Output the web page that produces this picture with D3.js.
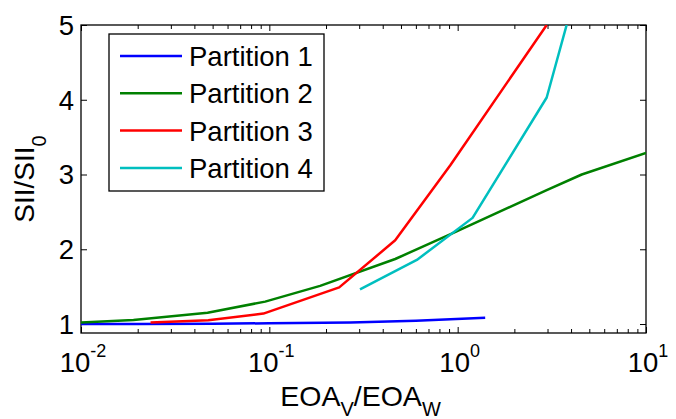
<!DOCTYPE html>
<html>
<head>
<meta charset="utf-8">
<script src="https://cdn.jsdelivr.net/npm/d3@7"></script>
<style>
  html, body { margin: 0; padding: 0; background: #fff; }
  svg { display: block; }
  text { font-family: "Liberation Sans", Arial, Helvetica, sans-serif; fill: #000; }
</style>
</head>
<body>
<svg id="chart" width="676" height="419"></svg>
<script>
// ---- data ----
const seriesNames = ["Partition 1", "Partition 2", "Partition 3", "Partition 4"];
const seriesColors = ["#0000ff", "#008000", "#ff0000", "#00bfbf"];

const p1X = [0.01, 0.02, 0.05, 0.1, 0.27, 0.6, 1.4];
const p1Y = [1.0, 1.0, 1.005, 1.01, 1.02, 1.045, 1.085];

const p2X = [0.01, 0.019, 0.047, 0.095, 0.186, 0.466, 0.93, 2.97, 4.56, 10];
const p2Y = [1.02, 1.055, 1.15, 1.30, 1.51, 1.87, 2.21, 2.79, 3.0, 3.29];

const p3X = [0.0234, 0.0474, 0.093, 0.235, 0.466, 0.912, 2.97];
const p3Y = [1.02, 1.05, 1.14, 1.49, 2.12, 3.12, 5.0];

const p4X = [0.303, 0.607, 1.2, 2.97, 3.79];
const p4Y = [1.465, 1.857, 2.42, 4.03, 5.0];

const xMajorTicks = [0.01, 0.1, 1, 10];
const xTickExponents = ["-2", "-1", "0", "1"];
const yTicks = [1, 2, 3, 4, 5];

// ---- layout ----
const svg = d3.select("#chart");
const L = 81, R = 646, T = 25, B = 333;
const fontSize = 27.5;

const x = d3.scaleLog().domain([0.01, 10]).range([L, R]);
const y = d3.scaleLinear().domain([0.88, 5]).range([B, T]);

const xMinor = [];
[0.01, 0.1, 1].forEach(d => { for (let k = 2; k <= 9; k++) xMinor.push(d * k); });

svg.append("defs").append("clipPath").attr("id", "clip")
  .append("rect").attr("x", L).attr("y", T).attr("width", R - L).attr("height", B - T);

// ticks (inside, on all four sides)
function styleAxis(g) {
  g.select(".domain").remove();
  g.selectAll(".tick line").attr("stroke", "#000").attr("stroke-width", 1);
  g.selectAll(".tick text").remove();
}
svg.append("g").attr("transform", `translate(0,${B})`)
  .call(d3.axisBottom(x).tickValues(xMajorTicks).tickSize(-6).tickFormat("")).call(styleAxis);
svg.append("g").attr("transform", `translate(0,${B})`)
  .call(d3.axisBottom(x).tickValues(xMinor).tickSize(-4).tickFormat("")).call(styleAxis);
svg.append("g").attr("transform", `translate(0,${T})`)
  .call(d3.axisTop(x).tickValues(xMajorTicks).tickSize(-6).tickFormat("")).call(styleAxis);
svg.append("g").attr("transform", `translate(0,${T})`)
  .call(d3.axisTop(x).tickValues(xMinor).tickSize(-4).tickFormat("")).call(styleAxis);
svg.append("g").attr("transform", `translate(${L},0)`)
  .call(d3.axisLeft(y).tickValues(yTicks).tickSize(-6).tickFormat("")).call(styleAxis);
svg.append("g").attr("transform", `translate(${R},0)`)
  .call(d3.axisRight(y).tickValues(yTicks).tickSize(-6).tickFormat("")).call(styleAxis);

// box
svg.append("rect").attr("x", L).attr("y", T).attr("width", R - L).attr("height", B - T)
  .attr("fill", "none").attr("stroke", "#000").attr("stroke-width", 1.3);

// y tick labels
svg.append("g").selectAll("text").data(yTicks).join("text")
  .attr("x", L - 7).attr("y", d => y(d)).attr("dy", "0.36em")
  .attr("text-anchor", "end").attr("font-size", fontSize).text(d => d);

// x tick labels 10^n
const xl = svg.append("g").selectAll("text").data(xMajorTicks).join("text")
  .attr("x", d => x(d) + 2).attr("y", 372).attr("text-anchor", "middle").attr("font-size", fontSize);
xl.append("tspan").text("10");
xl.append("tspan").attr("font-size", 18).attr("dy", -15).text((d, i) => xTickExponents[i]);

// axis titles
const xt = svg.append("text").attr("x", (L + R) / 2 - 3).attr("y", 406)
  .attr("text-anchor", "middle").attr("font-size", 28.5);
xt.append("tspan").text("EOA");
xt.append("tspan").attr("font-size", 20).attr("dy", 10).text("V");
xt.append("tspan").attr("dy", -10).text("/EOA");
xt.append("tspan").attr("font-size", 20).attr("dy", 10).text("W");

const yt = svg.append("text").attr("transform", `translate(34,${(T + B) / 2}) rotate(-90)`)
  .attr("text-anchor", "middle").attr("font-size", 28);
yt.append("tspan").text("SII/SII");
yt.append("tspan").attr("font-size", 20).attr("dy", 12).text("0");

// lines
const series = [
  { xs: p1X, ys: p1Y }, { xs: p2X, ys: p2Y }, { xs: p3X, ys: p3Y }, { xs: p4X, ys: p4Y }
];
const line = d3.line().x(d => x(d[0])).y(d => y(d[1]));
const lg = svg.append("g").attr("clip-path", "url(#clip)");
series.forEach((s, i) => {
  lg.append("path").datum(s.xs.map((v, j) => [v, s.ys[j]]))
    .attr("d", line).attr("fill", "none").attr("stroke", seriesColors[i])
    .attr("stroke-width", 2.5).attr("stroke-linejoin", "round");
});

// legend
const leg = svg.append("g");
leg.append("rect").attr("x", 109).attr("y", 34).attr("width", 215).attr("height", 157)
  .attr("fill", "#fff").attr("stroke", "#000").attr("stroke-width", 1.3);
seriesNames.forEach((n, i) => {
  const cy = 56 + i * 37.3;
  leg.append("line").attr("x1", 120).attr("x2", 182).attr("y1", cy).attr("y2", cy)
    .attr("stroke", seriesColors[i]).attr("stroke-width", 2.5);
  leg.append("text").attr("x", 189).attr("y", cy).attr("dy", "0.36em")
    .attr("font-size", fontSize).text(n);
});
</script>
</body>
</html>
